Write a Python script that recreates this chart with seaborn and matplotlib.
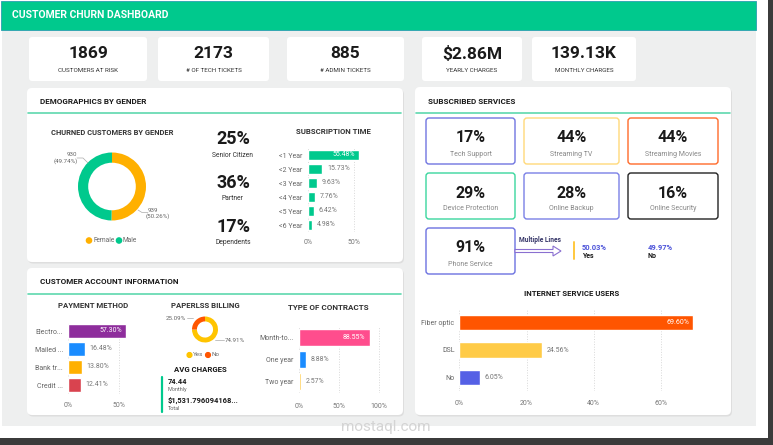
import matplotlib
matplotlib.use("Agg")
import matplotlib.pyplot as plt
import matplotlib.patches as mpatches
from matplotlib.lines import Line2D
from matplotlib.transforms import Affine2D
import seaborn as sns
import pandas as pd

# ================= data =================
kpi_values = ["1869", "2173", "885", "$2.86M", "139.13K"]
kpi_labels = ["CUSTOMERS AT RISK", "# OF TECH TICKETS", "# ADMIN TICKETS",
              "YEARLY CHARGES", "MONTHLY CHARGES"]

gender_labels = ["Female", "Male"]
gender_counts = [939, 930]
gender_pct = [50.26, 49.74]

demo_pct = ["25%", "36%", "17%"]
demo_labels = ["Senior Citizen", "Partner", "Dependents"]

tenure_cats = ["<1 Year", "<2 Year", "<3 Year", "<4 Year", "<5 Year", "<6 Year"]
tenure_pct = [55.48, 15.73, 9.63, 7.76, 6.42, 4.98]

service_names = ["Tech Support", "Streaming TV", "Streaming Movies",
                 "Device Protection", "Online Backup", "Online Security",
                 "Phone Service"]
service_pct = ["17%", "44%", "44%", "29%", "28%", "16%", "91%"]

multi_labels = ["Yes", "No"]
multi_pct = ["50.03%", "49.97%"]

internet_cats = ["Fiber optic", "DSL", "No"]
internet_pct = [69.60, 24.56, 6.05]

payment_cats = ["Electro...", "Mailed ...", "Bank tr...", "Credit ..."]
payment_pct = [57.30, 16.48, 13.80, 12.41]

paperless_labels = ["Yes", "No"]
paperless_pct = [74.91, 25.09]

avg_monthly = "74.44"
avg_total = "$1,531.796094168..."

contract_cats = ["Month-to...", "One year", "Two year"]
contract_pct = [88.55, 8.88, 2.57]

# ================= style =================
sns.set_theme(style="white")
plt.rcParams["font.family"] = ["Roboto", "DejaVu Sans"]

GREEN = "#00C98D"
W, H = 773, 445
fig = plt.figure(figsize=(7.73, 4.45), dpi=100)
fig.patch.set_facecolor("white")
# pixel coordinates, origin top-left
pix = Affine2D().scale(1 / 100, -1 / 100).translate(0, 4.45) + fig.dpi_scale_trans


def box(x, y, w, h, fc, ec="none", lw=0, r=0, z=-5):
    style = f"round,pad=0,rounding_size={r}" if r else "square,pad=0"
    fig.add_artist(mpatches.FancyBboxPatch((x, y), w, h, boxstyle=style, transform=pix,
                                           fc=fc, ec=ec, lw=lw, zorder=z))


def txt(x, y, s, fs, color="#222222", weight="normal", ha="center"):
    fig.text(x, y, s, transform=pix, fontsize=fs, color=color, fontweight=weight,
             ha=ha, va="center")


def line(xs, ys, color, lw=0.6, z=2):
    fig.add_artist(Line2D(xs, ys, transform=pix, color=color, lw=lw, zorder=z))


def dot(x, y, color, r=2.6):
    fig.add_artist(mpatches.Circle((x, y), r, transform=pix, color=color, zorder=3))


def ax_at(x, y, w, h):
    return fig.add_axes([x / W, 1 - (y + h) / H, w / W, h / H])


def hbar(rect, cats, vals, colors, xmax, ticks, bar_w, tick_pad, lab_pad, fs=5):
    ax = ax_at(*rect)
    df = pd.DataFrame({"cat": cats, "val": vals})
    sns.barplot(data=df, x="val", y="cat", hue="cat", palette=dict(zip(cats, colors)),
                legend=False, ax=ax, width=bar_w, saturation=1, orient="h")
    ax.set_xlim(0, xmax)
    ax.set_xticks(ticks)
    ax.set_xticklabels([f"{t}%" for t in ticks])
    ax.set_xlabel("")
    ax.set_ylabel("")
    ax.set_facecolor("none")
    for s in ax.spines.values():
        s.set_visible(False)
    ax.tick_params(axis="x", length=0, pad=tick_pad, labelsize=fs, labelcolor="#777777")
    ax.tick_params(axis="y", length=0, pad=lab_pad, labelsize=fs, labelcolor="#666666")
    for t in ticks:
        ax.axvline(t, color="#d8d8d8", ls=":", lw=0.7, zorder=0)
    for i, v in enumerate(vals):
        if i == 0:
            ax.annotate(f"{v:.2f}%", (v, i), xytext=(-3, 0), textcoords="offset points",
                        ha="right", va="center", fontsize=fs, color="white")
        else:
            ax.annotate(f"{v:.2f}%", (v, i), xytext=(3.5, 0), textcoords="offset points",
                        ha="left", va="center", fontsize=fs, color="#777777")
    return ax


# ================= background =================
box(2, 30, 754, 396, "#EEEFEF", z=-20)
box(768, 0, 5, 445, "#3b3b3b", z=-19)
box(0, 438, 773, 7, "#3b3b3b", z=-19)
box(1, 1, 755, 29, GREEN, ec="#2aa0b0", lw=0.6, z=-18)
txt(12, 15.5, "CUSTOMER CHURN DASHBOARD", 7.5, "white", "bold", ha="left")

# KPI cards
cards = [(29, 118), (158, 111), (287, 117), (422, 100), (532, 104)]
for (cx, cw), v, lab in zip(cards, kpi_values, kpi_labels):
    box(cx, 37, cw, 44, "white", r=3, z=-10)
    txt(cx + cw / 2, 54, v, 12.5, "#1a1a1a", "bold")
    txt(cx + cw / 2, 71, lab, 4.5, "#333333")

# panels
for (px, py, pw, ph) in [(27, 88, 376, 174), (27, 268, 376, 147), (415, 87, 316, 328)]:
    box(px + 1, py + 1.5, pw, ph, "#dedede", r=5, z=-12)
    box(px, py, pw, ph, "white", r=5, z=-11)

line([28, 401], [113, 113], "#5ED8AE", 1.2)
line([416, 730], [112.5, 112.5], "#5ED8AE", 1.2)
line([28, 401], [294, 294], "#5ED8AE", 1.2)
txt(40, 101, "DEMOGRAPHICS BY GENDER", 5.8, "#1a1a1a", "bold", ha="left")
txt(428, 101, "SUBSCRIBED SERVICES", 5.8, "#1a1a1a", "bold", ha="left")
txt(40, 282, "CUSTOMER ACCOUNT INFORMATION", 5.8, "#1a1a1a", "bold", ha="left")

# ================= demographics =================
txt(112, 133, "CHURNED CUSTOMERS BY GENDER", 5.4, "#333333", "bold")
ax = ax_at(78, 152.5, 68, 68)
ax.pie(gender_counts, colors=["#FFB000", GREEN], startangle=90, counterclock=False,
       radius=1, wedgeprops=dict(width=0.3, edgecolor="none"))
ax.set_xlim(-1, 1)
ax.set_ylim(-1, 1)
ax.axis("off")
txt(72, 155, f"{gender_counts[1]}", 4.4, "#666666")
txt(66, 161.5, f"({gender_pct[1]:.2f}%)", 4.4, "#666666")
line([77, 83, 88], [158, 158, 163], "#aaaaaa", 0.5)
txt(153, 210, f"{gender_counts[0]}", 4.4, "#666666")
txt(158, 216.5, f"({gender_pct[0]:.2f}%)", 4.4, "#666666")
line([138, 142, 148], [210, 212.5, 212.5], "#aaaaaa", 0.5)
dot(89, 240.5, "#FFB000")
txt(93, 240.5, gender_labels[0], 4.7, "#666666", ha="left")
dot(119, 240.5, GREEN)
txt(122.5, 240.5, gender_labels[1], 4.7, "#666666", ha="left")

for i, (p, lab) in enumerate(zip(demo_pct, demo_labels)):
    txt(233, 139 + 44 * i, p, 13, "#1a1a1a", "bold")
    txt(233, 155.5 + 43.5 * i, lab, 4.9, "#333333")

txt(333, 132, "SUBSCRIPTION TIME", 5.6, "#333333", "bold")
hbar((307.7, 148, 60.5, 84), tenure_cats, tenure_pct, [GREEN] * 6, 65, [0, 50],
     0.7, 5.2, 4)

# ================= subscribed services =================
svc_boxes = [(426, 118, 89, 46), (524, 118, 95, 46), (628, 118, 90, 46),
             (426, 173, 89, 46), (524, 173, 95, 46), (628, 173, 90, 46),
             (426, 228, 89, 46)]
svc_colors = ["#7075E0", "#FFD97A", "#FF6A2A", "#3AD69E", "#7A80E6", "#222222", "#6C72E0"]
for (bx, by, bw, bh), c, name, p in zip(svc_boxes, svc_colors, service_names, service_pct):
    box(bx, by, bw, bh, "white", ec=c, lw=1.0, r=3, z=-9)
    txt(bx + bw / 2, by + 20, p, 11.5, "#1a1a1a", "bold")
    txt(bx + bw / 2, by + 36, name, 5, "#888888")

txt(540, 240.5, "Multiple Lines", 4.8, "#333366", "bold")
fig.add_artist(mpatches.FancyArrow(515, 251, 46, 0, width=3, head_width=10, head_length=8,
                                   length_includes_head=True, transform=pix,
                                   fc="white", ec="#8A6FD0", lw=0.8, zorder=2))
line([574, 574], [242, 259], "#FFC83D", 1.4)
for xx, p, lab in zip([582, 648], multi_pct, multi_labels):
    txt(xx, 247.5, p, 5.4, "#4B52D9", "bold", ha="left")
    txt(xx, 256.5, lab, 5, "#1a1a1a", "bold", ha="left")

txt(572, 293, "INTERNET SERVICE USERS", 5.6, "#1a1a1a", "bold")
hbar((459.3, 308.75, 242, 82.5), internet_cats, internet_pct,
     ["#FF5500", "#FFCB47", "#5560E5"], 72, [0, 20, 40, 60], 0.55, 6, 3.5)

# ================= account information =================
txt(93, 305, "PAYMENT METHOD", 5.6, "#333333", "bold")
hbar((68, 322, 63, 72), payment_cats, payment_pct,
     ["#8E2D9C", "#1A8CFF", "#FFB000", "#D9434F"], 62, [0, 50], 0.78, 6, 3.5)

txt(205, 305, "PAPERLSS BILLING", 5.6, "#333333", "bold")
ax = ax_at(192, 316.5, 26, 26)
ax.pie(paperless_pct, colors=["#FFC400", "#FF5500"], startangle=90, counterclock=False,
       radius=1, wedgeprops=dict(width=0.38, edgecolor="none"))
ax.set_xlim(-1, 1)
ax.set_ylim(-1, 1)
ax.axis("off")
txt(185.5, 318, f"{paperless_pct[1]:.2f}%", 4.4, "#666666", ha="right")
line([186.5, 193], [318, 318], "#aaaaaa", 0.5)
txt(225, 340, f"{paperless_pct[0]:.2f}%", 4.4, "#666666", ha="left")
line([215, 224], [340, 340], "#aaaaaa", 0.5)
dot(189.5, 355, "#FFC400", 2.4)
txt(193, 355, paperless_labels[0], 4.5, "#666666", ha="left")
dot(208, 355, "#FF5500", 2.4)
txt(211.5, 355, paperless_labels[1], 4.5, "#666666", ha="left")

txt(200, 370, "AVG CHARGES", 5.6, "#1a1a1a", "bold")
line([162, 162], [377, 412], GREEN, 1.6)
txt(168, 382, avg_monthly, 5.4, "#1a1a1a", "bold", ha="left")
txt(168, 390, "Monthly", 4, "#666666", ha="left")
txt(168, 400.5, avg_total, 5.4, "#1a1a1a", "bold", ha="left")
txt(168, 409, "Total", 4, "#666666", ha="left")

txt(328, 308, "TYPE OF CONTRACTS", 5.8, "#333333", "bold")
hbar((298.7, 326.5, 84, 66), contract_cats, contract_pct,
     ["#FF4D8D", "#1A8CFF", "#FFC83D"], 105, [0, 50, 100], 0.77, 7.2, 4)

# watermark
txt(386, 427, "mostaql.com", 11, "#d4d4d4")

fig.savefig("out.png", dpi=100)
